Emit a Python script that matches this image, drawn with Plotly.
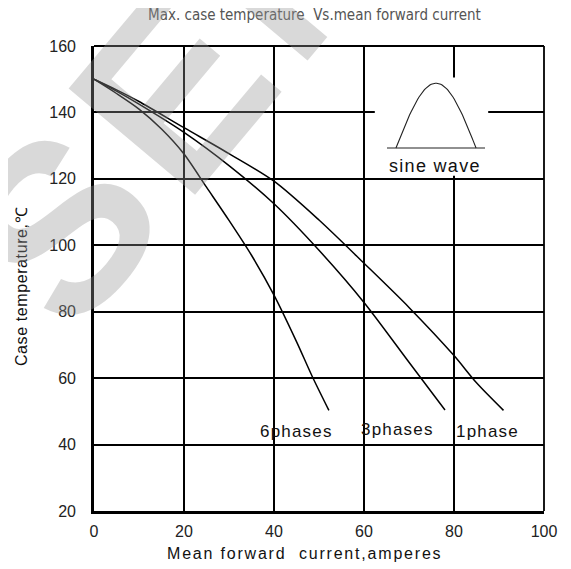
import numpy as np
import plotly.graph_objects as go

# ---- data ----
x_1phase = [0, 5, 10, 20, 30, 40, 50, 60, 70, 80, 85, 91]
y_1phase = [150, 146.8, 143.3, 135.4, 127.6, 119.3, 107.6, 94.6, 81.3, 66.8, 58.6, 50.3]

x_3phases = [0, 5, 10, 20, 30, 40, 50, 60, 70, 78]
y_3phases = [150, 146.4, 142.5, 134, 124, 112.5, 98.5, 82.8, 64.8, 50.4]

x_6phases = [0, 5, 10, 15, 20, 25, 30, 35, 40, 45, 48.5, 52.2]
y_6phases = [150, 145.7, 141, 135, 127.5, 117.5, 107.5, 97, 85, 71, 60.5, 50.3]

x_ticks = [0, 20, 40, 60, 80, 100]
y_ticks = [20, 40, 60, 80, 100, 120, 140, 160]

curve_labels = ["6phases", "3phases", "1phase"]
label_x = [45.1, 67.4, 87.5]
label_y = [43.8, 44.4, 43.8]

FONT = "Liberation Sans, Arial, sans-serif"
TICK_FONT = dict(family=FONT, size=16, color="#222222")


def spaced(text, px):
    return '<span style="letter-spacing:%spx">%s</span>' % (px, text)


fig = go.Figure()

line_style = dict(color="#000000", width=1.5, shape="spline", smoothing=0.8)
for xs, ys, nm in [(x_1phase, y_1phase, "1phase"),
                   (x_3phases, y_3phases, "3phases"),
                   (x_6phases, y_6phases, "6phases")]:
    fig.add_trace(go.Scatter(x=xs, y=ys, mode="lines", line=line_style,
                             name=nm, showlegend=False, hoverinfo="skip"))

# ---- sine-wave icon (inset) ----
t = np.linspace(0, 1, 60)
icon_x = 67.1 + (84.9 - 67.1) * t
icon_y = 129.3 + 19.5 * np.sin(np.pi * t)
fig.add_trace(go.Scatter(x=icon_x, y=icon_y, mode="lines",
                         line=dict(color="#222222", width=1.1),
                         showlegend=False, hoverinfo="skip"))
fig.add_trace(go.Scatter(x=[65.1, 86.9], y=[129.3, 129.3], mode="lines",
                         line=dict(color="#222222", width=1.1),
                         showlegend=False, hoverinfo="skip"))

shapes = [
    # white box hiding the grid behind the inset
    dict(type="rect", xref="x", yref="y", x0=62.4, x1=87.6, y0=120.9, y1=150.5,
         fillcolor="white", line=dict(width=0), layer="between"),
    # top and right frame
    dict(type="line", xref="paper", yref="paper", x0=0, x1=1, y0=1, y1=1,
         line=dict(color="black", width=1.8), layer="above"),
    dict(type="line", xref="paper", yref="paper", x0=1, x1=1, y0=0, y1=1,
         line=dict(color="black", width=1.8), layer="above"),
]

annotations = []
for txt, lx, ly in zip(curve_labels, label_x, label_y):
    annotations.append(dict(x=lx, y=ly, xref="x", yref="y", text=spaced(txt, 1.2),
                            showarrow=False,
                            font=dict(family=FONT, size=17, color="#111111")))
annotations.append(dict(x=75.8, y=123.8, xref="x", yref="y", text=spaced("sine wave", 1.3),
                        showarrow=False,
                        font=dict(family=FONT, size=18, color="#111111")))
# axis titles
annotations.append(dict(x=0.467, y=-0.092, xref="paper", yref="paper",
                        text=spaced("Mean forward\u00a0 current,amperes", 1.8), showarrow=False,
                        xanchor="center", yanchor="middle",
                        font=dict(family=FONT, size=16, color="#111111")))
annotations.append(dict(x=-0.1607, y=0.483, xref="paper", yref="paper",
                        text=spaced("Case temperature,℃", 0.6), showarrow=False, textangle=-90,
                        xanchor="center", yanchor="middle",
                        font=dict(family=FONT, size=16, color="#111111")))
# title
annotations.append(dict(x=0.491, y=(510.5 - 15) / 465, xref="paper", yref="paper",
                        text="Max. case temperature\u00a0 Vs.mean forward current", showarrow=False,
                        xanchor="center", yanchor="middle",
                        font=dict(family="DejaVu Sans Condensed, Liberation Sans Narrow, sans-serif",
                                  size=15, color="#555555")))
# watermark
annotations.append(dict(x=0.272, y=1.013, xref="paper", yref="paper",
                        text=spaced("<b>SEMI</b>", 15), showarrow=False, textangle=-50,
                        xanchor="center", yanchor="middle",
                        font=dict(family=FONT, size=240,
                                  color="rgba(150,150,150,0.36)")))

# the page adds an 8px body margin, so the figure is 8px smaller than the window
fig.update_layout(
    width=563, height=561,
    margin=dict(l=86, r=27, t=38, b=58, pad=0),
    paper_bgcolor="white", plot_bgcolor="white",
    shapes=shapes, annotations=annotations,
    xaxis=dict(range=[0, 100], tickvals=x_ticks, ticktext=[str(v) for v in x_ticks],
               showgrid=True, gridcolor="black", gridwidth=1.7,
               showline=True, linecolor="black", linewidth=2.7,
               zeroline=False, ticks="", tickfont=TICK_FONT, ticklabelstandoff=4,
               fixedrange=True),
    yaxis=dict(range=[20, 160], tickvals=y_ticks, ticktext=[str(v) for v in y_ticks],
               showgrid=True, gridcolor="black", gridwidth=1.7,
               showline=True, linecolor="black", linewidth=2.7,
               zeroline=False, ticks="", tickfont=TICK_FONT, ticklabelstandoff=12,
               fixedrange=True),
)

fig.write_html("out.html")
